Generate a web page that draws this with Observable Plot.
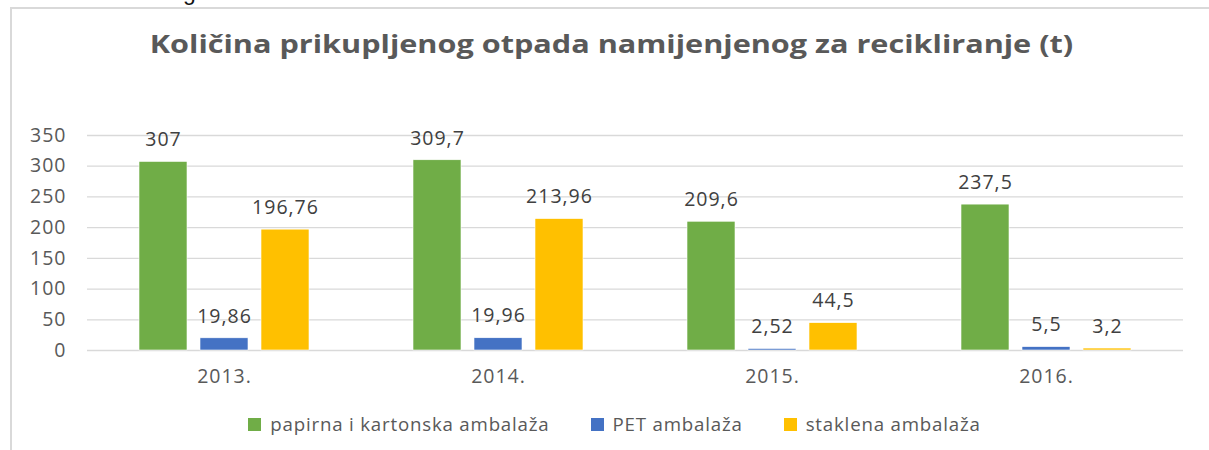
<!DOCTYPE html>
<html>
<head>
<meta charset="utf-8">
<script src="https://cdn.jsdelivr.net/npm/d3@7"></script>
<script src="https://cdn.jsdelivr.net/npm/@observablehq/plot@0.6"></script>
<style>
  html, body { margin: 0; padding: 0; background: #fff; overflow: hidden; }
  body { width: 1209px; height: 450px; position: relative; font-family: "Open Sans", sans-serif; }
  #frame { position: absolute; left: 10px; top: 7px; width: 1220px; height: 460px;
           border-left: 2.5px solid #d9d9d9; border-top: 2.5px solid #d9d9d9; }
  #cut { position: absolute; left: 183px; top: -19px; font: 23px/22px "Liberation Sans", sans-serif; color: #111; }
  #title { position: absolute; left: 0; width: 1223px; top: 29px; text-align: center;
           font: bold 24.5px/30px "Open Sans", sans-serif; color: #595959; white-space: nowrap;
           transform: scaleX(1.25); transform-origin: 611.5px 50%; }
  #chart { position: absolute; left: 0; top: 100px; }
  #chart svg { letter-spacing: 1px; }
  #legend { position: absolute; left: 0; width: 1229px; top: 414px; display: flex; justify-content: center; gap: 41px;
            font: 18.7px/20px "Open Sans", sans-serif; color: #595959; letter-spacing: 0.8px; }
  .item { display: flex; align-items: flex-start; white-space: nowrap; }
  .sw { width: 13px; height: 13px; margin-top: 4px; margin-right: 9px; flex: none; }
</style>
</head>
<body>
<div id="frame"></div>
<div id="cut">g</div>
<div id="title"></div>
<div id="chart"></div>
<div id="legend"></div>
<script>
const titleText = "Količina prikupljenog otpada namijenjenog za recikliranje (t)";
const years = ["2013.", "2014.", "2015.", "2016."];
const seriesNames = ["papirna i kartonska ambalaža", "PET ambalaža", "staklena ambalaža"];
const seriesColors = ["#70AD47", "#4472C4", "#FFC000"];
const paper = [307, 309.7, 209.6, 237.5];
const pet = [19.86, 19.96, 2.52, 5.5];
const glass = [196.76, 213.96, 44.5, 3.2];
const yTicks = [0, 50, 100, 150, 200, 250, 300, 350];

const seriesValues = [paper, pet, glass];
const data = [];
years.forEach((yr, i) => {
  seriesNames.forEach((s, j) => data.push({year: yr, series: s, value: seriesValues[j][i]}));
});
const fmt = v => String(v).replace(".", ",");

document.getElementById("title").textContent = titleText;

const plot = Plot.plot({
  width: 1209,
  height: 300,
  marginTop: 35,
  marginBottom: 50,
  marginLeft: 86,
  marginRight: 26,
  style: {fontFamily: "Open Sans, sans-serif", background: "transparent", color: "#595959", overflow: "visible"},
  fx: {domain: years, padding: 0, label: null},
  x: {domain: seriesNames, paddingInner: 0.21, paddingOuter: 0.85, axis: null},
  y: {domain: [0, 350], label: null},
  color: {domain: seriesNames, range: seriesColors},
  marks: [
    Plot.gridY(yTicks, {stroke: "#d9d9d9", strokeOpacity: 1, strokeWidth: 1.3}),
    Plot.barY(data, {fx: "year", x: "series", y: "value", fill: "series", stroke: "#fff", strokeWidth: 0.6}),
    Plot.text(data, {fx: "year", x: "series", y: "value", text: d => fmt(d.value), dy: -22, fontSize: 19.5, fill: "#404040"}),
    Plot.axisY(yTicks, {tickSize: 0, tickPadding: 21, fontSize: 19.5, fill: "#595959", label: null, tickFormat: d => String(d)}),
    Plot.axisFx({anchor: "bottom", tickSize: 0, tickPadding: 19, fontSize: 19.5, fill: "#595959", label: null})
  ]
});
document.getElementById("chart").appendChild(plot);

const legend = document.getElementById("legend");
seriesNames.forEach((s, j) => {
  const it = document.createElement("div");
  it.className = "item";
  const sw = document.createElement("div");
  sw.className = "sw";
  sw.style.background = seriesColors[j];
  const t = document.createElement("span");
  t.textContent = s;
  it.appendChild(sw);
  it.appendChild(t);
  legend.appendChild(it);
});
</script>
</body>
</html>
